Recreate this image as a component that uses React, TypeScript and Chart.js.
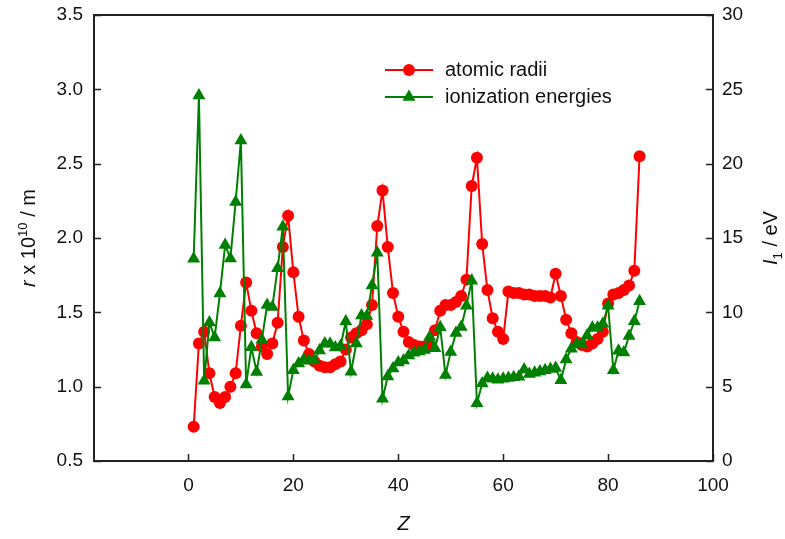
import React, { useEffect, useRef } from "react";
import { Chart, registerables } from "chart.js";

Chart.register(...registerables);

// ---- data ----
const atomicNumbers = [
  1, 2, 3, 4, 5, 6, 7, 8, 9, 10, 11, 12, 13, 14, 15, 16, 17, 18, 19, 20,
  21, 22, 23, 24, 25, 26, 27, 28, 29, 30, 31, 32, 33, 34, 35, 36, 37, 38, 39, 40,
  41, 42, 43, 44, 45, 46, 47, 48, 49, 50, 51, 52, 53, 54, 55, 56, 57, 58, 59, 60,
  61, 62, 63, 64, 65, 66, 67, 68, 69, 70, 71, 72, 73, 74, 75, 76, 77, 78, 79, 80,
  81, 82, 83, 84, 85, 86,
];

const atomicRadii = [
  0.73, 1.29, 1.37, 1.09, 0.93, 0.89, 0.93, 1.0, 1.09, 1.41,
  1.7, 1.51, 1.36, 1.27, 1.22, 1.29, 1.43, 1.94, 2.15, 1.77,
  1.47, 1.31, 1.22, 1.17, 1.14, 1.13, 1.13, 1.15, 1.17, 1.25,
  1.33, 1.36, 1.38, 1.42, 1.55, 2.08, 2.32, 1.94, 1.63, 1.47,
  1.37, 1.3, 1.28, 1.27, 1.27, 1.28, 1.38, 1.51, 1.55, 1.55,
  1.57, 1.61, 1.72, 2.35, 2.54, 1.96, 1.65, 1.46, 1.37, 1.32,
  1.64, 1.63, 1.63, 1.62, 1.62, 1.61, 1.61, 1.61, 1.6, 1.76,
  1.61, 1.45, 1.36, 1.3, 1.28, 1.27, 1.29, 1.32, 1.37, 1.56,
  1.62, 1.63, 1.65, 1.68, 1.78, 2.55,
];

const ionizationEnergies = [
  13.6, 24.59, 5.39, 9.32, 8.3, 11.26, 14.53, 13.62, 17.42, 21.56,
  5.14, 7.65, 5.99, 8.15, 10.49, 10.36, 12.97, 15.76, 4.34, 6.11,
  6.56, 6.83, 6.75, 6.77, 7.43, 7.9, 7.88, 7.64, 7.73, 9.39,
  6.0, 7.9, 9.79, 9.75, 11.81, 14.0, 4.18, 5.69, 6.22, 6.63,
  6.76, 7.09, 7.28, 7.36, 7.46, 8.34, 7.58, 8.99, 5.79, 7.34,
  8.61, 9.01, 10.45, 12.13, 3.89, 5.21, 5.58, 5.54, 5.47, 5.53,
  5.58, 5.64, 5.67, 6.15, 5.86, 5.94, 6.02, 6.11, 6.18, 6.25,
  5.43, 6.83, 7.55, 7.86, 7.83, 8.44, 8.97, 8.96, 9.23, 10.44,
  6.11, 7.42, 7.29, 8.41, 9.4, 10.75,
];

const xTicks = [0, 20, 40, 60, 80, 100];
const yLeftTicks = [0.5, 1.0, 1.5, 2.0, 2.5, 3.0, 3.5];
const yRightTicks = [0, 5, 10, 15, 20, 25, 30];

const seriesNames = ["atomic radii", "ionization energies"];

const RED = "#ff0000";
const GREEN = "#008000";
const FONT = "'Liberation Sans', Arial, sans-serif";

type Seg = { t: string; italic?: boolean; scale?: number; dy?: number };

function drawRich(
  ctx: CanvasRenderingContext2D,
  segs: Seg[],
  size: number,
  x: number,
  y: number,
  rot: number
) {
  ctx.save();
  ctx.translate(x, y);
  ctx.rotate(rot);
  ctx.textBaseline = "alphabetic";
  ctx.textAlign = "left";
  ctx.fillStyle = "#111";
  const fontFor = (s: Seg) =>
    `${s.italic ? "italic " : ""}${Math.round(size * (s.scale || 1))}px ${FONT}`;
  let total = 0;
  for (const s of segs) {
    ctx.font = fontFor(s);
    total += ctx.measureText(s.t).width;
  }
  let cx = -total / 2;
  for (const s of segs) {
    ctx.font = fontFor(s);
    ctx.fillText(s.t, cx, (s.dy || 0) * size);
    cx += ctx.measureText(s.t).width;
  }
  ctx.restore();
}

const decorPlugin = {
  id: "decor",
  afterDraw(chart: any) {
    const ctx: CanvasRenderingContext2D = chart.ctx;
    const a = chart.chartArea;
    const xs = chart.scales.x;
    const yl = chart.scales.y;
    const yr = chart.scales.y1;
    ctx.save();
    // frame
    ctx.strokeStyle = "#222";
    ctx.lineWidth = 2;
    ctx.strokeRect(a.left, a.top, a.right - a.left, a.bottom - a.top);
    // inner ticks
    ctx.lineWidth = 1.5;
    const tl = 7;
    ctx.beginPath();
    for (const t of xs.ticks) {
      const px = Math.round(xs.getPixelForValue(t.value)) + 0.5;
      ctx.moveTo(px, a.bottom);
      ctx.lineTo(px, a.bottom - tl);
    }
    for (const t of yl.ticks) {
      const py = Math.round(yl.getPixelForValue(t.value)) + 0.5;
      ctx.moveTo(a.left, py);
      ctx.lineTo(a.left + tl, py);
    }
    for (const t of yr.ticks) {
      const py = Math.round(yr.getPixelForValue(t.value)) + 0.5;
      ctx.moveTo(a.right, py);
      ctx.lineTo(a.right - tl, py);
    }
    ctx.stroke();

    // axis titles
    drawRich(
      ctx,
      [
        { t: "r", italic: true },
        { t: " x 10" },
        { t: "10", scale: 0.65, dy: -0.42 },
        { t: " / m" },
      ],
      20,
      35,
      (a.top + a.bottom) / 2,
      -Math.PI / 2
    );
    drawRich(
      ctx,
      [{ t: "I", italic: true }, { t: "1", scale: 0.65, dy: 0.25 }, { t: " / eV" }],
      20,
      777,
      (a.top + a.bottom) / 2,
      -Math.PI / 2
    );
    drawRich(ctx, [{ t: "Z", italic: true }], 20, (a.left + a.right) / 2, 530, 0);

    // legend
    const rows = [70, 97];
    chart.data.datasets.forEach((ds: any, i: number) => {
      const y = rows[i];
      ctx.strokeStyle = ds.borderColor;
      ctx.lineWidth = 2;
      ctx.beginPath();
      ctx.moveTo(385, y);
      ctx.lineTo(433, y);
      ctx.stroke();
      ctx.fillStyle = ds.backgroundColor;
      const r = ds.pointRadius;
      ctx.beginPath();
      if (ds.pointStyle === "triangle") {
        ctx.moveTo(409, y - r);
        ctx.lineTo(409 + r * Math.sin((2 * Math.PI) / 3), y + r / 2);
        ctx.lineTo(409 - r * Math.sin((2 * Math.PI) / 3), y + r / 2);
        ctx.closePath();
      } else {
        ctx.arc(409, y, r, 0, Math.PI * 2);
      }
      ctx.fill();
      ctx.fillStyle = "#111";
      ctx.font = `20px ${FONT}`;
      ctx.textBaseline = "middle";
      ctx.textAlign = "left";
      ctx.fillText(ds.label, 445, y);
    });
    ctx.restore();
  },
};

export default function App() {
  const ref = useRef<HTMLCanvasElement | null>(null);

  useEffect(() => {
    document.body.style.margin = "0";
    const canvas = ref.current!;
    const radiiPts = atomicNumbers.map((z, i) => ({ x: z, y: atomicRadii[i] }));
    const iePts = atomicNumbers.map((z, i) => ({ x: z, y: ionizationEnergies[i] }));
    const tickFont = { family: FONT, size: 19 };
    const noPad = (s: any) => {
      s.paddingTop = 0;
      s.paddingBottom = 0;
      s.paddingLeft = 0;
      s.paddingRight = 0;
    };

    const chart = new Chart(canvas, {
      type: "line",
      data: {
        datasets: [
          {
            label: seriesNames[0],
            data: radiiPts,
            yAxisID: "y",
            borderColor: RED,
            backgroundColor: RED,
            borderWidth: 2,
            pointStyle: "circle",
            pointRadius: 6,
            pointBorderWidth: 0,
            order: 2,
          },
          {
            label: seriesNames[1],
            data: iePts,
            yAxisID: "y1",
            borderColor: GREEN,
            backgroundColor: GREEN,
            borderWidth: 2,
            pointStyle: "triangle",
            pointRadius: 7.5,
            pointBorderWidth: 0,
            order: 1,
          },
        ] as any,
      },
      options: {
        animation: false,
        responsive: false,
        devicePixelRatio: 1,
        layout: { padding: { top: 15, left: 0, right: 0, bottom: 0 } },
        plugins: { legend: { display: false }, tooltip: { enabled: false } },
        scales: {
          x: {
            type: "linear",
            min: -18,
            max: 100,
            grid: { display: false, drawTicks: false },
            border: { display: false },
            ticks: { font: tickFont, color: "#111", padding: 13, maxRotation: 0, autoSkip: false },
            afterBuildTicks: (s: any) => {
              s.ticks = xTicks.map((v) => ({ value: v }));
            },
            afterFit: (s: any) => {
              s.height = 78;
              noPad(s);
            },
          },
          y: {
            type: "linear",
            position: "left",
            min: 0.5,
            max: 3.5,
            grid: { display: false, drawTicks: false },
            border: { display: false },
            ticks: {
              font: tickFont,
              color: "#111",
              padding: 11,
              callback: (v: any) => Number(v).toFixed(1),
            },
            afterBuildTicks: (s: any) => {
              s.ticks = yLeftTicks.map((v) => ({ value: v }));
            },
            afterFit: (s: any) => {
              s.width = 94;
              noPad(s);
            },
          },
          y1: {
            type: "linear",
            position: "right",
            min: 0,
            max: 30,
            grid: { display: false, drawTicks: false },
            border: { display: false },
            ticks: { font: tickFont, color: "#111", padding: 9 },
            afterBuildTicks: (s: any) => {
              s.ticks = yRightTicks.map((v) => ({ value: v }));
            },
            afterFit: (s: any) => {
              s.width = 72;
              noPad(s);
            },
          },
        },
      } as any,
      plugins: [decorPlugin],
    });
    return () => chart.destroy();
  }, []);

  return (
    <div style={{ position: "fixed", left: 0, top: 0, width: 785, height: 539, background: "#fff" }}>
      <canvas ref={ref} width={785} height={539} style={{ width: 785, height: 539, display: "block" }} />
    </div>
  );
}
